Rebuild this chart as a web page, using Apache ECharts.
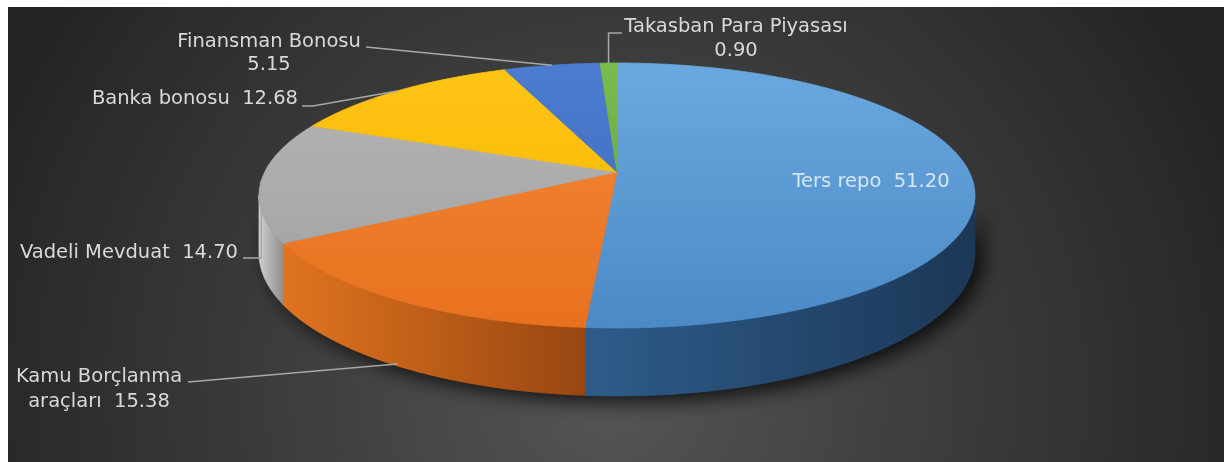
<!DOCTYPE html>
<html><head><meta charset="utf-8">
<script src="https://cdn.jsdelivr.net/npm/echarts@6/dist/echarts.min.js"></script>
<style>html,body{margin:0;padding:0;background:#fff;}#c{width:1224px;height:462px;}</style>
</head><body><div id="c"></div>
<script>
// ---- data ----
const categories = ['Ters repo', 'Kamu Borçlanma araçları', 'Vadeli Mevduat', 'Banka bonosu', 'Finansman Bonosu', 'Takasban Para Piyasası'];
const values = [51.20, 15.38, 14.70, 12.68, 5.15, 0.90];
// how each label is broken into lines (name part, separator before value)
const labelNames = ['Ters repo', 'Kamu Borçlanma\naraçları', 'Vadeli Mevduat', 'Banka bonosu', 'Finansman Bonosu', 'Takasban Para Piyasası'];
const labelSeps = ['  ', '  ', '  ', '  ', '\n', '\n'];

// ---- styles / layout ----
const topColors = [['#6aa8e0', '#4c8ac7'], ['#f48838', '#e8711f'], ['#b6b6b6', '#a0a0a0'], ['#ffc515', '#f4b400'], ['#4b7cd0', '#3e68b6'], ['#7aba4e', '#66a03e']];
const wallColors = [['#2e5c8a', '#1c3756'], ['#e0741f', '#984612'], ['#d0d0d0', '#8e8e8e'], ['#d9a300', '#a67c00'], ['#375fa6', '#27457a'], ['#5d9139', '#44702a']];
// perspective pie: centre, half-axes, perspective factor, wall height
const PIE = {cx: 617, cy: 172, A: 352.3, B: 128.3, K: 0.1774, H: 55.9};
const labelLayout = [
  {x: 871, y: 182, align: 'center', inside: true},
  {x: 99, y: 389, align: 'center', lh: 25, lead: [[188, 382]], anchorDepth: 0.97},
  {x: 238, y: 253, align: 'right', lead: [[243, 258], ['a', 258]]},
  {x: 298, y: 99, align: 'right', lead: [[302, 106], [313, 106]]},
  {x: 269, y: 53, align: 'center', lh: 23, lead: [[366, 47]]},
  {x: 736, y: 39, align: 'center', lh: 24, lead: [[622, 33], ['a', 33]]}
];

const TWO_PI = Math.PI * 2;
const total = values.reduce((s, v) => s + v, 0);
const starts = [];
(function () { let a = 0; for (const v of values) { starts.push(a); a += v; } })();

// project angle th (clockwise from the back/top) on the top rim; f = fraction of wall height downwards
function P(th, f) {
  const u = Math.sin(th), w = Math.cos(th);
  const s = 1 / (1 + PIE.K * w);
  return [PIE.cx + PIE.A * u * s, PIE.cy + (-PIE.B * w + PIE.H * (f || 0)) * s];
}
function arc(a0, a1, f) {
  const n = Math.max(2, Math.ceil((a1 - a0) / 0.01));
  const out = [];
  for (let k = 0; k <= n; k++) out.push(P(a0 + (a1 - a0) * k / n, f));
  return out;
}
const WALL0 = Math.acos(-PIE.K), WALL1 = TWO_PI - Math.acos(-PIE.K);

const chart = echarts.init(document.getElementById('c'));

const option = {
  animation: false,
  graphic: [{
    type: 'rect', z: -10, silent: true,
    shape: {x: 8, y: 7, width: 1216, height: 455},
    style: {fill: new echarts.graphic.RadialGradient(610, 390, 690, [
      {offset: 0, color: '#555555'}, {offset: 0.45, color: '#3e3e3e'}, {offset: 1, color: '#232323'}
    ], true)}
  }],
  series: [{
    type: 'custom',
    coordinateSystem: 'none',
    data: values.map((v, i) => ({value: [v], name: categories[i]})),
    renderItem: function (params, api) {
      const i = params.dataIndex;
      const v = api.value(0);
      const a0 = starts[i] / total * TWO_PI, a1 = (starts[i] + v) / total * TWO_PI;
      const ch = [];
      if (i === 0) {
        const s = arc(WALL0, WALL1, 0).concat(arc(WALL0, WALL1, 1).reverse());
        ch.push({type: 'polygon', silent: true, z2: 0, shape: {points: s},
          style: {fill: '#1c1c1c', shadowBlur: 20, shadowColor: 'rgba(0,0,0,0.8)', shadowOffsetX: 8, shadowOffsetY: 6}});
      }
      const w0 = Math.max(a0, WALL0), w1 = Math.min(a1, WALL1);
      if (w1 > w0) {
        const pts = arc(w0, w1, 0).concat(arc(w0, w1, 1).reverse());
        const g = new echarts.graphic.LinearGradient(0, 0, 1, 0, [
          {offset: 0, color: wallColors[i][0]}, {offset: 1, color: wallColors[i][1]}]);
        ch.push({type: 'polygon', z2: 2, shape: {points: pts}, style: {fill: g, stroke: g, lineWidth: 0.8}});
      }
      const top = [[PIE.cx, PIE.cy]].concat(arc(a0, a1, 0));
      const tg = new echarts.graphic.LinearGradient(0, PIE.cy - 110, 0, PIE.cy + 156, [
        {offset: 0, color: topColors[i][0]}, {offset: 1, color: topColors[i][1]}], true);
      ch.push({type: 'polygon', z2: 5, shape: {points: top}, style: {fill: tg, stroke: tg, lineWidth: 0.8}});

      const L = labelLayout[i];
      if (L.lead) {
        const anc = P((a0 + a1) / 2, L.anchorDepth || 0);
        const pts = L.lead.map(p => [p[0] === 'a' ? anc[0] : p[0], p[1]]);
        pts.push(anc);
        ch.push({type: 'polyline', z2: 8, silent: true, shape: {points: pts},
          style: {stroke: '#a8a8a8', lineWidth: 1.5, fill: null}});
      }
      ch.push({type: 'text', z2: 10, x: L.x, y: L.y, silent: true,
        style: {
          text: labelNames[i] + labelSeps[i] + v.toFixed(2),
          fill: L.inside ? 'rgba(255,255,255,0.75)' : '#d9d9d9',
          fontSize: 19.5, fontFamily: 'DejaVu Sans',
          align: L.align, verticalAlign: 'middle', lineHeight: L.lh || 24
        }});
      return {type: 'group', children: ch};
    }
  }]
};
chart.setOption(option);
</script>
</body></html>
